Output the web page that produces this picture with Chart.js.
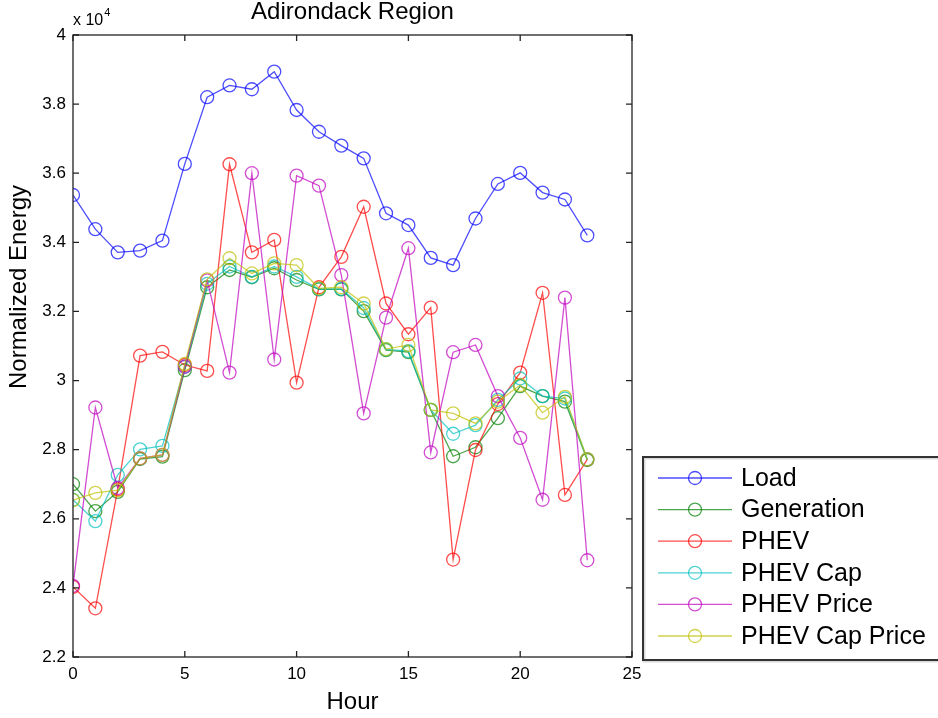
<!DOCTYPE html>
<html>
<head>
<meta charset="utf-8">
<title>Adirondack Region</title>
<script src="https://cdn.jsdelivr.net/npm/chart.js@4.4.0/dist/chart.umd.min.js"></script>
<style>
  body { margin: 0; background: #fff; }
  #wrap { width: 938px; height: 718px; }
</style>
</head>
<body>
<div id="wrap"><canvas id="chart" width="938" height="718"></canvas></div>
<script>
// Valeurs en unites de 10^4 (voir le "x 10^4" au-dessus de l'axe)
const hours = [0, 1, 2, 3, 4, 5, 6, 7, 8, 9, 10, 11, 12, 13, 14, 15, 16, 17, 18, 19, 20, 21, 22, 23];
const seriesNames = ['Load', 'Generation', 'PHEV', 'PHEV Cap', 'PHEV Price', 'PHEV Cap Price'];

const load = [3.537, 3.438, 3.371, 3.376, 3.405, 3.627, 3.820, 3.854, 3.843, 3.894, 3.783, 3.720,
              3.680, 3.643, 3.484, 3.450, 3.355, 3.334, 3.469, 3.569, 3.601, 3.544, 3.524, 3.420];
const generation = [2.700, 2.622, 2.678, 2.773, 2.780, 3.030, 3.270, 3.320, 3.299, 3.325, 3.291, 3.264,
                    3.264, 3.201, 3.088, 3.082, 2.915, 2.781, 2.807, 2.891, 2.984, 2.955, 2.939, 2.770];
const phev = [2.403, 2.341, 2.685, 3.072, 3.083, 3.045, 3.028, 3.626, 3.371, 3.407, 2.994, 3.270,
              3.358, 3.503, 3.223, 3.134, 3.211, 2.482, 2.799, 2.932, 3.023, 3.254, 2.669, 2.772];
const phevCap = [2.655, 2.593, 2.727, 2.801, 2.811, 3.040, 3.280, 3.330, 3.300, 3.330, 3.300, 3.265,
                 3.265, 3.210, 3.090, 3.085, 2.915, 2.846, 2.871, 2.944, 3.006, 2.955, 2.948, 2.772];
const phevPrice = [2.406, 2.922, 2.689, 2.775, 2.785, 3.040, 3.290, 3.023, 3.600, 3.061, 3.593, 3.564,
                   3.305, 2.905, 3.182, 3.383, 2.792, 3.082, 3.103, 2.955, 2.834, 2.655, 3.240, 2.480];
const phevCapPrice = [2.654, 2.675, 2.683, 2.775, 2.785, 3.048, 3.293, 3.354, 3.310, 3.339, 3.334, 3.267,
                      3.270, 3.223, 3.091, 3.103, 2.915, 2.905, 2.876, 2.939, 2.987, 2.907, 2.953, 2.772];

const xTicks = [0, 5, 10, 15, 20, 25];
const yTicks = [2.2, 2.4, 2.6, 2.8, 3.0, 3.2, 3.4, 3.6, 3.8, 4.0];

const colors = [
    'rgba(0, 0, 255, 0.7)',
    'rgba(0, 128, 0, 0.7)',
    'rgba(255, 0, 0, 0.7)',
    'rgba(0, 191, 191, 0.7)',
    'rgba(191, 0, 191, 0.7)',
    'rgba(191, 191, 0, 0.7)'
];

const FONT = '"Liberation Sans", Arial, sans-serif';

function makeDataset(label, values, i) {
    return {
        label: label,
        data: values.map((v, k) => ({ x: hours[k], y: v })),
        borderColor: colors[i],
        backgroundColor: 'rgba(0,0,0,0)',
        borderWidth: 1.3,
        pointRadius: 6.5,
        pointBorderWidth: 1.3,
        pointBackgroundColor: 'rgba(0,0,0,0)',
        pointBorderColor: colors[i],
        tension: 0,
        order: seriesNames.length - i  // le dernier trace passe au-dessus
    };
}

const allSeries = [load, generation, phev, phevCap, phevPrice, phevCapPrice];

// Cadre, graduations interieures, titres et legende facon MATLAB
const matlabDecor = {
    id: 'matlabDecor',
    afterDraw(chart) {
        const ctx = chart.ctx;
        const area = chart.chartArea;
        const xs = chart.scales.x;
        const ys = chart.scales.y;
        ctx.save();

        // cadre
        ctx.strokeStyle = '#222';
        ctx.lineWidth = 1.3;
        ctx.strokeRect(area.left, area.top, area.right - area.left, area.bottom - area.top);

        // graduations vers l'interieur
        const tl = 6;
        ctx.beginPath();
        xTicks.forEach(v => {
            const px = xs.getPixelForValue(v);
            ctx.moveTo(px, area.bottom); ctx.lineTo(px, area.bottom - tl);
            ctx.moveTo(px, area.top); ctx.lineTo(px, area.top + tl);
        });
        yTicks.forEach(v => {
            const py = ys.getPixelForValue(v);
            ctx.moveTo(area.left, py); ctx.lineTo(area.left + tl, py);
            ctx.moveTo(area.right, py); ctx.lineTo(area.right - tl, py);
        });
        ctx.stroke();

        // titre
        ctx.fillStyle = '#000';
        ctx.textAlign = 'center';
        ctx.textBaseline = 'middle';
        ctx.font = '24px ' + FONT;
        ctx.fillText('Adirondack Region', (area.left + area.right) / 2, 12);

        // x 10^4
        ctx.textAlign = 'left';
        ctx.textBaseline = 'alphabetic';
        ctx.font = '16px ' + FONT;
        ctx.fillText('x 10', area.left, 25);
        const w = ctx.measureText('x 10').width;
        ctx.font = '11px ' + FONT;
        ctx.fillText('4', area.left + w + 1, 16);

        // titres des axes
        ctx.font = '24px ' + FONT;
        ctx.textAlign = 'center';
        ctx.textBaseline = 'middle';
        ctx.fillText('Hour', (area.left + area.right) / 2, 702);
        ctx.save();
        ctx.translate(19, 287);
        ctx.rotate(-Math.PI / 2);
        ctx.fillText('Normalized Energy', 0, 0);
        ctx.restore();

        // legende
        const bx = 643, by = 457, bw = 310, bh = 203;
        ctx.fillStyle = '#fff';
        ctx.fillRect(bx, by, bw, bh);
        ctx.strokeStyle = 'rgba(0,0,0,0.15)';
        ctx.lineWidth = 3;
        ctx.strokeRect(bx + 1, by + 1, bw, bh);
        ctx.strokeStyle = '#333';
        ctx.lineWidth = 2;
        ctx.strokeRect(bx, by, bw, bh);

        ctx.font = '25px ' + FONT;
        ctx.textAlign = 'left';
        chart.data.datasets.forEach((ds, i) => {
            const cy = 478 + i * 31.6;
            ctx.strokeStyle = ds.borderColor;
            ctx.lineWidth = 1.3;
            ctx.beginPath();
            ctx.moveTo(658, cy); ctx.lineTo(732, cy);
            ctx.stroke();
            ctx.beginPath();
            ctx.arc(695, cy, 6.5, 0, Math.PI * 2);
            ctx.stroke();
            ctx.fillStyle = '#000';
            ctx.fillText(ds.label, 741, cy + 1);
        });

        ctx.restore();
    }
};

const chart = new Chart(document.getElementById('chart').getContext('2d'), {
    type: 'line',
    data: {
        datasets: seriesNames.map((name, i) => makeDataset(name, allSeries[i], i))
    },
    options: {
        responsive: false,
        animation: false,
        layout: { padding: { top: 35, right: 306, left: 0, bottom: 0 } },
        plugins: {
            legend: { display: false },
            title: { display: false },
            tooltip: { enabled: false }
        },
        scales: {
            x: {
                type: 'linear',
                min: 0,
                max: 25,
                afterBuildTicks: s => { s.ticks = xTicks.map(v => ({ value: v })); },
                afterFit: s => { s.height = 61; },
                grid: { display: false, drawTicks: false },
                border: { display: false },
                ticks: {
                    padding: 7,
                    color: '#000',
                    font: { family: FONT, size: 17 },
                    maxRotation: 0,
                    callback: v => String(v)
                }
            },
            y: {
                type: 'linear',
                min: 2.2,
                max: 4,
                afterBuildTicks: s => { s.ticks = yTicks.map(v => ({ value: v })); },
                afterFit: s => { s.width = 73; },
                grid: { display: false, drawTicks: false },
                border: { display: false },
                ticks: {
                    padding: 7,
                    color: '#000',
                    font: { family: FONT, size: 17 },
                    callback: v => String(+Number(v).toFixed(1))
                }
            }
        }
    },
    plugins: [matlabDecor]
});
</script>
</body>
</html>
